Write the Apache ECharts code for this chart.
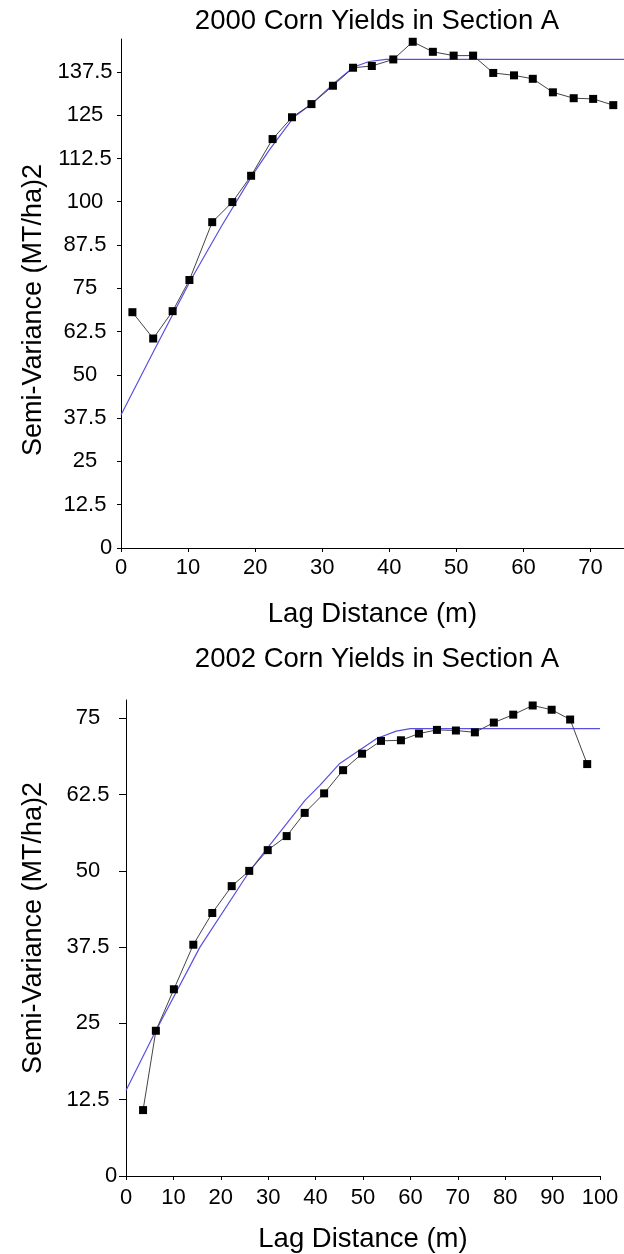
<!DOCTYPE html>
<html>
<head>
<meta charset="utf-8">
<script src="https://cdn.jsdelivr.net/npm/echarts@6/dist/echarts.min.js"></script>
<style>
html,body{margin:0;padding:0;background:#fff;}
#c{width:624px;height:1254px;}
</style>
</head>
<body>
<div id="c"></div>
<script>
// ---- Data: 2000 Corn Yields in Section A ----
const lag2000 = [1.7, 4.8, 7.7, 10.2, 13.6, 16.6, 19.4, 22.6, 25.5, 28.4, 31.6, 34.6, 37.4, 40.6, 43.5, 46.5, 49.6, 52.5, 55.5, 58.6, 61.4, 64.4, 67.5, 70.4, 73.4];
const sv2000  = [68.1, 60.5, 68.4, 77.4, 94.1, 99.9, 107.5, 118.1, 124.4, 128.2, 133.5, 138.7, 139.2, 141.1, 146.2, 143.3, 142.2, 142.2, 137.2, 136.5, 135.5, 131.6, 129.9, 129.7, 127.9];
const fitLag2000 = [0, 5, 10.4, 15, 19.6, 22.1, 25.8, 28.5, 32, 34.7, 37, 39.5, 75];
const fitSv2000  = [38.4, 57.3, 77.4, 93, 107.7, 114.9, 124.5, 128.4, 134.6, 138.9, 140.5, 141.1, 141.1];

// ---- Data: 2002 Corn Yields in Section A ----
const lag2002 = [3.6, 6.3, 10.1, 14.2, 18.2, 22.3, 26.0, 29.9, 33.9, 37.7, 41.8, 45.8, 49.8, 53.8, 58.0, 61.8, 65.6, 69.6, 73.6, 77.6, 81.7, 85.8, 89.8, 93.7, 97.3];
const sv2002  = [10.8, 23.8, 30.6, 37.9, 43.1, 47.5, 50.0, 53.4, 55.7, 59.5, 62.7, 66.5, 69.2, 71.3, 71.4, 72.5, 73.1, 73.0, 72.7, 74.3, 75.6, 77.1, 76.4, 74.8, 67.5];
const fitLag2002 = [0, 6.1, 15.6, 26.2, 29.7, 37.8, 40.9, 45.1, 52.9, 57, 60, 100];
const fitSv2002  = [14, 23.5, 37.5, 50.1, 53.6, 61.6, 64.0, 67.6, 71.7, 72.9, 73.3, 73.3];

const titles = ['2000 Corn Yields in Section A', '2002 Corn Yields in Section A'];
const xName = 'Lag Distance (m)';
const yName = 'Semi-Variance (MT/ha)2';

const pairs = (xs, ys) => xs.map((x, i) => [x, ys[i]]);

const FONT = 'Arial, "Liberation Sans", sans-serif';
const axisLineStyle = {lineStyle: {color: '#000', width: 1}};

function xAxisCfg(gi, max, gap, margin) {
  return {
    type: 'value', gridIndex: gi, min: 0, max: max, interval: 10,
    splitLine: {show: false},
    axisLine: axisLineStyle,
    axisTick: {show: true, length: 4, lineStyle: {color: '#000'}},
    axisLabel: {color: '#000', fontSize: 22, fontFamily: FONT, margin: margin, showMaxLabel: max % 10 === 0},
    name: xName, nameLocation: 'middle', nameGap: gap,
    nameTextStyle: {color: '#000', fontSize: 27.5, fontFamily: FONT}
  };
}
function yAxisCfg(gi, max, margin, zeroPad) {
  return {
    type: 'value', gridIndex: gi, min: 0, max: max, interval: 12.5,
    splitLine: {show: false},
    axisLine: axisLineStyle,
    axisTick: {show: true, length: gi === 0 ? 4 : 7, lineStyle: {color: '#000', width: 1}},
    axisLabel: {
      color: '#000', fontSize: 22, fontFamily: FONT, margin: margin, align: 'center', showMaxLabel: false,
      formatter: v => v === 0 ? '{z|0}' : String(v),
      rich: {z: {fontSize: 22, fontFamily: FONT, color: '#000', padding: [0, 0, 0, zeroPad]}}
    }
  };
}

const chart = echarts.init(document.getElementById('c'), null, {renderer: 'canvas'});
chart.setOption({
  backgroundColor: '#fff',
  animation: false,
  title: [
    {text: titles[0], left: 372, top: 2, textAlign: 'center', textStyle: {color: '#000', fontSize: 27.5, fontWeight: 'normal', fontFamily: FONT}},
    {text: titles[1], left: 372, top: 640, textAlign: 'center', textStyle: {color: '#000', fontSize: 27.5, fontWeight: 'normal', fontFamily: FONT}}
  ],
  graphic: [
    {type: 'text', x: 34, y: 310, rotation: Math.PI / 2,
     style: {text: yName, fill: '#000', font: '27px ' + FONT, align: 'center', verticalAlign: 'middle'}},
    {type: 'text', x: 34, y: 928, rotation: Math.PI / 2,
     style: {text: yName, fill: '#000', font: '27px ' + FONT, align: 'center', verticalAlign: 'middle'}}
  ],
  grid: [
    {left: 121, top: 39, width: 505.5, height: 509},
    {left: 126, top: 700, width: 474, height: 476}
  ],
  xAxis: [xAxisCfg(0, 75, 52, 9), xAxisCfg(1, 100, 49, 11)],
  yAxis: [yAxisCfg(0, 147, 36, 42), yAxisCfg(1, 78, 38, 46)],
  series: [
    {type: 'line', xAxisIndex: 0, yAxisIndex: 0, data: pairs(fitLag2000, fitSv2000), symbol: 'none',
     lineStyle: {color: '#5a50e0', width: 1.2}, z: 2},
    {type: 'line', xAxisIndex: 0, yAxisIndex: 0, data: pairs(lag2000, sv2000), symbol: 'rect', symbolSize: 8,
     itemStyle: {color: '#000'}, lineStyle: {color: '#444', width: 1}, z: 3},
    {type: 'line', xAxisIndex: 1, yAxisIndex: 1, data: pairs(fitLag2002, fitSv2002), symbol: 'none',
     lineStyle: {color: '#5a50e0', width: 1.2}, z: 2},
    {type: 'line', xAxisIndex: 1, yAxisIndex: 1, data: pairs(lag2002, sv2002), symbol: 'rect', symbolSize: 8,
     itemStyle: {color: '#000'}, lineStyle: {color: '#444', width: 1}, z: 3}
  ]
});
</script>
</body>
</html>
